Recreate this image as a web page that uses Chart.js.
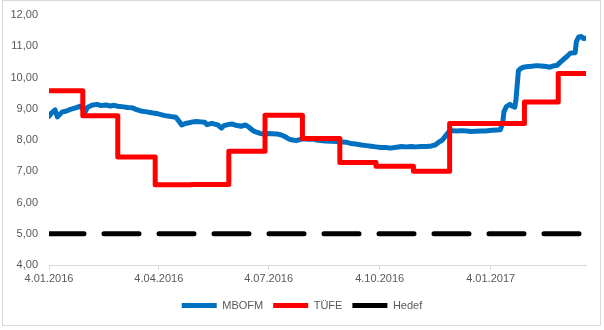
<!DOCTYPE html>
<html>
<head>
<meta charset="utf-8">
<script src="https://cdn.jsdelivr.net/npm/chart.js@4.4.1/dist/chart.umd.min.js"></script>
<style>
  body { margin: 0; background: #fff; }
</style>
</head>
<body>
<canvas id="chart" width="604" height="330"></canvas>
<script>
// x axis tick labels (d.mm.yyyy)
var xTickLabels = ['4.01.2016', '4.04.2016', '4.07.2016', '4.10.2016', '4.01.2017'];

// MBOFM
var mbofmDates = [
  '2016-01-04','2016-01-06','2016-01-09','2016-01-11','2016-01-15','2016-01-18','2016-01-21','2016-01-26','2016-01-30',
  '2016-02-03','2016-02-05','2016-02-09','2016-02-13','2016-02-16','2016-02-20','2016-02-24','2016-02-27',
  '2016-03-01','2016-03-06','2016-03-09','2016-03-13','2016-03-16','2016-03-20','2016-03-25','2016-03-29',
  '2016-04-02','2016-04-05','2016-04-09','2016-04-14','2016-04-18','2016-04-20','2016-04-23','2016-04-26','2016-04-29',
  '2016-05-02','2016-05-05','2016-05-09','2016-05-12','2016-05-14','2016-05-18','2016-05-21','2016-05-23','2016-05-26','2016-05-28',
  '2016-06-01','2016-06-04','2016-06-07','2016-06-11','2016-06-15','2016-06-18','2016-06-21','2016-06-24','2016-06-27',
  '2016-07-01','2016-07-04','2016-07-07','2016-07-11','2016-07-14','2016-07-17','2016-07-21','2016-07-24','2016-07-27','2016-07-31',
  '2016-08-03','2016-08-06','2016-08-10','2016-08-13','2016-08-16','2016-08-20','2016-08-25','2016-08-29',
  '2016-09-02','2016-09-06','2016-09-10','2016-09-14','2016-09-19','2016-09-23','2016-09-27',
  '2016-10-01','2016-10-05','2016-10-09','2016-10-13','2016-10-18','2016-10-22','2016-10-26','2016-10-30',
  '2016-11-03','2016-11-07','2016-11-12','2016-11-16','2016-11-19','2016-11-22','2016-11-25','2016-11-27','2016-11-30',
  '2016-12-03','2016-12-07','2016-12-11','2016-12-15','2016-12-19','2016-12-23','2016-12-27','2016-12-31',
  '2017-01-05','2017-01-09','2017-01-12','2017-01-14','2017-01-15','2017-01-17','2017-01-20','2017-01-22','2017-01-24','2017-01-25','2017-01-27','2017-01-29','2017-01-31',
  '2017-02-04','2017-02-07','2017-02-11','2017-02-15','2017-02-19','2017-02-22','2017-02-25','2017-02-28',
  '2017-03-03','2017-03-06','2017-03-09','2017-03-11','2017-03-15','2017-03-16','2017-03-18','2017-03-20','2017-03-22','2017-03-24'
];
var mbofmValues = [
  8.76,8.86,8.96,8.74,8.90,8.92,8.97,9.03,9.08,
  8.90,9.05,9.12,9.14,9.10,9.12,9.09,9.11,
  9.08,9.06,9.04,9.03,8.98,8.93,8.90,8.87,
  8.85,8.82,8.78,8.75,8.73,8.64,8.48,8.53,8.55,
  8.58,8.59,8.58,8.57,8.49,8.53,8.50,8.48,8.38,8.46,
  8.50,8.51,8.47,8.44,8.48,8.40,8.30,8.25,8.21,
  8.19,8.21,8.20,8.19,8.17,8.12,8.03,8.00,7.98,8.03,
  8.04,8.02,8.03,8.00,7.98,7.97,7.96,7.95,
  7.94,7.93,7.89,7.87,7.84,7.82,7.80,
  7.78,7.76,7.76,7.74,7.77,7.79,7.78,7.79,
  7.78,7.79,7.79,7.81,7.84,7.93,8.00,8.10,8.25,
  8.30,8.29,8.30,8.29,8.27,8.28,8.29,8.29,
  8.31,8.32,8.33,8.55,8.90,9.07,9.14,9.08,9.05,9.30,10.22,10.29,10.33,
  10.35,10.36,10.38,10.37,10.35,10.33,10.37,10.39,
  10.50,10.60,10.70,10.78,10.79,11.15,11.30,11.31,11.25,11.26
];

// TÜFE (monthly steps)
var tufeDates = ['2016-01-04','2016-02-01','2016-03-01','2016-04-01','2016-05-01','2016-06-01','2016-07-01','2016-08-01',
                 '2016-09-01','2016-10-01','2016-11-01','2016-12-01','2017-01-01','2017-02-01','2017-03-01','2017-03-24'];
var tufeValues = [9.58,8.78,7.46,6.57,6.58,7.64,8.79,8.05,7.28,7.16,7.00,8.53,8.53,9.22,10.13,10.13];

// Hedef
var hedefDates  = ['2016-01-04','2017-03-24'];
var hedefValues = [5, 5];

var DAY = 86400000;
var START = Date.UTC(2016, 0, 4);

function isoToDay(s){
    var p = s.split('-');
    return Math.round((Date.UTC(+p[0], +p[1] - 1, +p[2]) - START) / DAY);
}
function labelToDay(s){
    var p = s.split('.');
    return Math.round((Date.UTC(+p[2], +p[1] - 1, +p[0]) - START) / DAY);
}
function toPoints(dates, values){
    return dates.map(function(d, i){ return { x: isoToDay(d), y: values[i] }; });
}

var textColor = '#595959';
var font = { family: '"Liberation Sans", Arial, sans-serif', size: 11 };

// white background + light grey frame round the whole chart
var frame = {
    id: 'frame',
    beforeDraw: function(chart){
        var c = chart.ctx;
        c.save();
        c.fillStyle = '#ffffff';
        c.fillRect(0, 0, chart.width, chart.height);
        c.restore();
    },
    afterDraw: function(chart){
        var c = chart.ctx;
        c.save();
        c.strokeStyle = '#d9d9d9';
        c.lineWidth = 1;
        c.strokeRect(2.5, 0.5, 598, 325);
        c.restore();
    }
};

function yAxisFit(w){
    return function(scale){
        scale.width = w;
        scale.paddingTop = 0;
        scale.paddingBottom = 0;
    };
}

var ctx = document.getElementById('chart').getContext('2d');
var myChart = new Chart(ctx, {
    type: 'line',
    data: {
        datasets: [{
            label: 'MBOFM',
            data: toPoints(mbofmDates, mbofmValues),
            borderColor: '#0070c0',
            backgroundColor: '#0070c0',
            borderWidth: 5,
            borderJoinStyle: 'round',
            borderCapStyle: 'round',
            pointRadius: 0,
            order: 2
        }, {
            label: 'TÜFE',
            data: toPoints(tufeDates, tufeValues),
            borderColor: '#ff0000',
            backgroundColor: '#ff0000',
            borderWidth: 5,
            stepped: 'before',
            borderJoinStyle: 'round',
            pointRadius: 0,
            order: 1
        }, {
            label: 'Hedef',
            data: toPoints(hedefDates, hedefValues),
            borderColor: '#000000',
            backgroundColor: '#000000',
            borderWidth: 5,
            borderDash: [35, 20],
            borderCapStyle: 'round',
            pointRadius: 0,
            order: 0
        }]
    },
    options: {
        responsive: false,
        animation: false,
        layout: { padding: { top: 15, right: 0, bottom: 9, left: 0 } },
        plugins: {
            tooltip: { enabled: false },
            legend: {
                position: 'bottom',
                labels: {
                    color: textColor,
                    font: font,
                    boxWidth: 35,
                    boxHeight: 5,
                    padding: 10,
                    generateLabels: function(chart){
                        return chart.data.datasets.map(function(ds, i){
                            return {
                                text: ds.label,
                                fillStyle: ds.borderColor,
                                strokeStyle: ds.borderColor,
                                lineWidth: 0,
                                lineDash: [],
                                fontColor: textColor,
                                datasetIndex: i
                            };
                        });
                    }
                }
            }
        },
        scales: {
            x: {
                type: 'linear',
                min: 0,
                max: isoToDay(mbofmDates[mbofmDates.length - 1]),
                afterBuildTicks: function(scale){
                    scale.ticks = xTickLabels.map(function(l){ return { value: labelToDay(l) }; });
                },
                afterFit: function(scale){ scale.height = 25; },
                ticks: {
                    autoSkip: false,
                    maxRotation: 0,
                    padding: 2,
                    color: textColor,
                    font: font,
                    callback: function(value, index){ return xTickLabels[index]; }
                },
                grid: { drawOnChartArea: false, drawTicks: true, tickLength: 5, color: '#d9d9d9' },
                border: { display: true, color: '#d9d9d9' }
            },
            y: {
                min: 4,
                max: 12,
                afterFit: yAxisFit(49),
                ticks: {
                    stepSize: 1,
                    padding: 11,
                    color: textColor,
                    font: font,
                    callback: function(v){ return v.toFixed(2).replace('.', ','); }
                },
                grid: { display: false, drawTicks: false },
                border: { display: false }
            },
            // empty right-hand axis, only keeps space on the right of the plot
            yRight: {
                position: 'right',
                min: 4,
                max: 12,
                afterFit: yAxisFit(18),
                ticks: { display: false },
                grid: { display: false, drawTicks: false },
                border: { display: false }
            }
        }
    },
    plugins: [frame]
});
</script>
</body>
</html>
